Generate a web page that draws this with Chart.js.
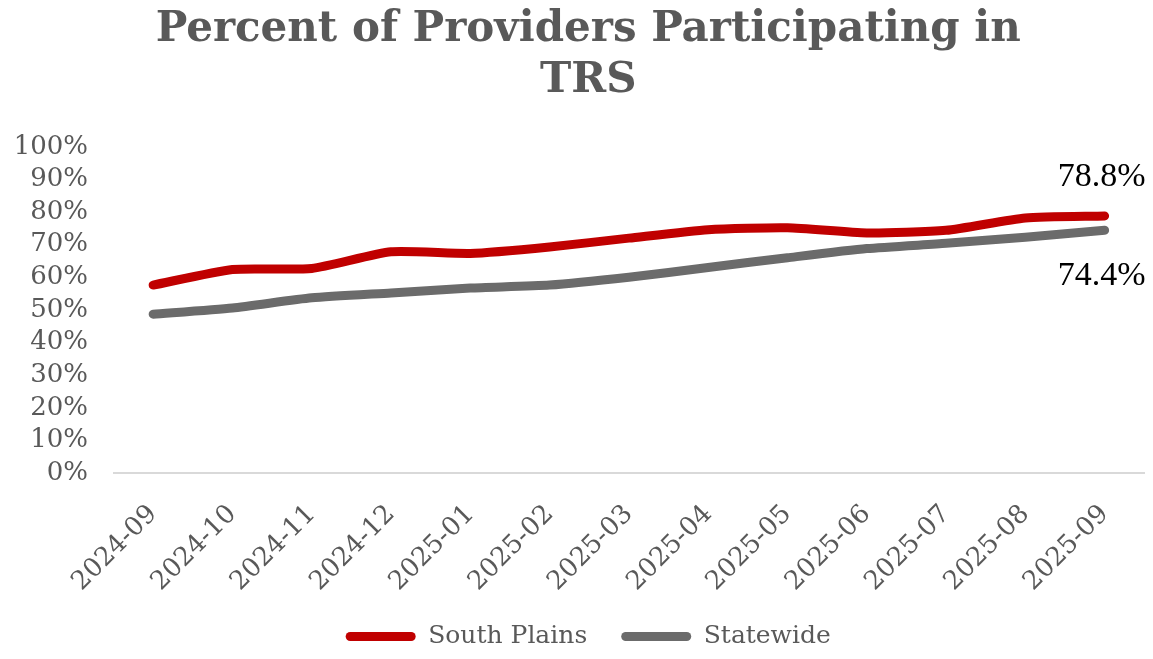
<!DOCTYPE html>
<html>
<head>
<meta charset="utf-8">
<script src="https://cdn.jsdelivr.net/npm/chart.js@4.5.0/dist/chart.umd.min.js"></script>
<style>
  html, body { margin: 0; padding: 0; background: #fff; }
  #wrap { width: 1153px; height: 659px; position: relative; }
</style>
</head>
<body>
<div id="wrap"><canvas id="chart"></canvas></div>
<script>
// === DATA ===
const meses = ['2024-09', '2024-10', '2024-11', '2024-12', '2025-01', '2025-02', '2025-03',
  '2025-04', '2025-05', '2025-06', '2025-07', '2025-08', '2025-09'];
const southPlains = [57.6, 62.4, 62.7, 67.8, 67.3, 69.3, 72.0, 74.6, 75.2, 73.6, 74.4, 78.2, 78.8];
const statewide = [48.7, 50.6, 53.7, 55.2, 56.7, 57.6, 60.0, 63.0, 66.0, 68.8, 70.4, 72.3, 74.4];
const yTicks = [0, 10, 20, 30, 40, 50, 60, 70, 80, 90, 100];
const titulo = ['Percent of Providers Participating in', 'TRS'];

const gris = '#595959';
const serif = "'DejaVu Serif', serif";

// etiqueta del ultimo punto de cada serie
const ultimoValor = {
  id: 'ultimoValor',
  afterDatasetsDraw(chart) {
    const { ctx } = chart;
    ctx.save();
    ctx.font = "34px 'Liberation Serif', serif";
    ctx.fillStyle = '#000';
    ctx.textAlign = 'center';
    ctx.textBaseline = 'middle';
    chart.data.datasets.forEach((ds, i) => {
      const meta = chart.getDatasetMeta(i);
      const pt = meta.data[meta.data.length - 1];
      const v = ds.data[ds.data.length - 1];
      const dy = i === 0 ? -39 : 46;
      ctx.fillText(v.toFixed(1) + '%', pt.x - 3, pt.y + dy);
    });
    ctx.restore();
  }
};

// titulo y leyenda algo corridos a la derecha, como en el original
const desplaza = {
  id: 'desplaza',
  afterLayout(chart) {
    chart.titleBlock.left += 32;
    chart.legend.left += 32;
  }
};

new Chart(document.getElementById('chart'), {
  type: 'line',
  data: {
    labels: meses,
    datasets: [
      {
        label: 'South Plains',
        data: southPlains,
        borderColor: '#C00000',
        backgroundColor: '#C00000',
        borderWidth: 9,
        borderCapStyle: 'round',
        borderJoinStyle: 'round',
        pointRadius: 0,
        tension: 0.2
      },
      {
        label: 'Statewide',
        data: statewide,
        borderColor: '#6B6B6B',
        backgroundColor: '#6B6B6B',
        borderWidth: 9,
        borderCapStyle: 'round',
        borderJoinStyle: 'round',
        pointRadius: 0,
        tension: 0.2
      }
    ]
  },
  options: {
    responsive: true,
    maintainAspectRatio: false,
    animation: false,
    devicePixelRatio: 1,
    layout: { padding: { left: 0, right: 8.5, top: 0, bottom: 0 } },
    plugins: {
      title: {
        display: true,
        text: titulo,
        color: gris,
        font: { family: serif, size: 42, weight: 'bold', lineHeight: 1.2 },
        padding: { top: 5, bottom: 41 }
      },
      legend: {
        position: 'bottom',
        labels: {
          color: gris,
          font: { family: serif, size: 25 },
          boxWidth: 70,
          boxHeight: 9,
          padding: 34,
          useBorderRadius: true,
          borderRadius: 4.5,
          generateLabels: chart => chart.data.datasets.map((ds, i) => ({
            text: ds.label,
            fillStyle: ds.borderColor,
            strokeStyle: ds.borderColor,
            lineWidth: 0,
            fontColor: gris,
            borderRadius: 4.5,
            datasetIndex: i
          }))
        }
      },
      tooltip: { enabled: false }
    },
    scales: {
      x: {
        offset: true,
        grid: { display: false, drawTicks: false },
        border: { display: true, color: '#D9D9D9', width: 2 },
        ticks: {
          color: gris,
          font: { family: serif, size: 26 },
          minRotation: 45,
          maxRotation: 45,
          autoSkip: false,
          padding: 26
        },
        afterFit: s => { s.height = 117; }
      },
      y: {
        min: 0,
        max: 100,
        grid: { display: false, drawTicks: false },
        border: { display: false },
        afterBuildTicks: s => { s.ticks = yTicks.map(v => ({ value: v })); },
        ticks: {
          color: gris,
          font: { family: serif, size: 26 },
          padding: 25.5,
          autoSkip: false,
          callback: v => v + '%'
        },
        afterFit: s => { s.width = 113.5; }
      }
    }
  },
  plugins: [ultimoValor, desplaza]
});
</script>
</body>
</html>
